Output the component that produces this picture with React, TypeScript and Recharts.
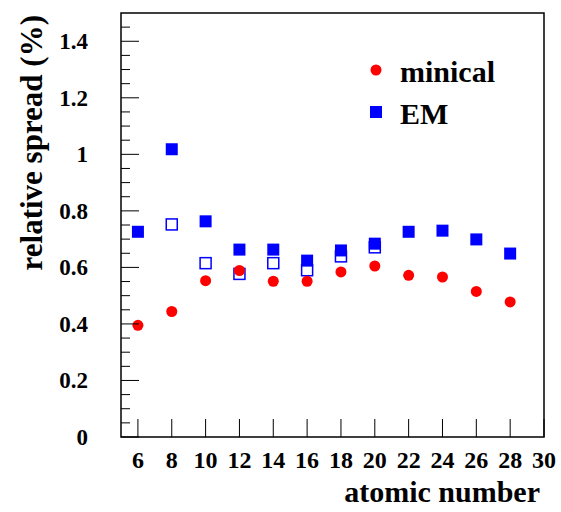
import React from 'react';
import { ScatterChart, Scatter, XAxis, YAxis, ReferenceArea, Legend } from 'recharts';

// atomic number (Z) of each measured element
const atomicNumbers = [6, 8, 10, 12, 14, 16, 18, 20, 22, 24, 26, 28];
// relative spread (%)
const minicalSpread = [0.395, 0.444, 0.553, 0.589, 0.551, 0.551, 0.584, 0.605, 0.572, 0.566, 0.515, 0.478];
const emSpread = [0.726, 1.018, 0.763, 0.663, 0.663, 0.624, 0.66, 0.684, 0.726, 0.73, 0.699, 0.649];
// open squares (EM, second set, not in legend)
const emOpenAtomic = [8, 10, 12, 14, 16, 18, 20];
const emOpenSpread = [0.752, 0.615, 0.577, 0.615, 0.59, 0.639, 0.671];

const legendOrder = ['minical', 'EM'];
const xTicks = [6, 8, 10, 12, 14, 16, 18, 20, 22, 24, 26, 28, 30];
const yMajorTicks = [0, 0.2, 0.4, 0.6, 0.8, 1, 1.2, 1.4];
const yAllTicks = [
  0, 0.05, 0.1, 0.15, 0.2, 0.25, 0.3, 0.35, 0.4, 0.45, 0.5, 0.55, 0.6, 0.65, 0.7,
  0.75, 0.8, 0.85, 0.9, 0.95, 1, 1.05, 1.1, 1.15, 1.2, 1.25, 1.3, 1.35, 1.4, 1.45,
];

const FONT = '"Liberation Serif", "Times New Roman", serif';
const PLOT_LEFT = 121;
const PLOT_BOTTOM = 437;
const RED = '#ff0000';
const BLUE = '#0000ff';

const minicalData = atomicNumbers.map((z, i) => ({ z, spread: minicalSpread[i] }));
const emData = atomicNumbers.map((z, i) => ({ z, spread: emSpread[i] }));
const emOpenData = emOpenAtomic.map((z, i) => ({ z, spread: emOpenSpread[i] }));

const XTick = (props: any) => {
  const { x, payload } = props;
  return (
    <g>
      <line x1={x} x2={x} y1={PLOT_BOTTOM} y2={PLOT_BOTTOM - 18} stroke="#000" strokeWidth={1} />
      <text x={x} y={468} textAnchor="middle" fontFamily={FONT} fontWeight="bold" fontSize={24} fill="#000">
        {payload.value}
      </text>
    </g>
  );
};

const YTick = (props: any) => {
  const { y, payload } = props;
  const major = yMajorTicks.some((t) => Math.abs(t - payload.value) < 1e-6);
  return (
    <g>
      <line x1={PLOT_LEFT} x2={PLOT_LEFT + (major ? 18 : 9)} y1={y} y2={y} stroke="#000" strokeWidth={1} />
      {major && (
        <text x={88} y={y + 8} textAnchor="end" fontFamily={FONT} fontWeight="bold" fontSize={23} fill="#000">
          {String(payload.value)}
        </text>
      )}
    </g>
  );
};

const renderLegend = (props: any) => {
  const items = (props.payload || [])
    .filter((p: any) => legendOrder.includes(p.value))
    .sort((a: any, b: any) => legendOrder.indexOf(a.value) - legendOrder.indexOf(b.value));
  return (
    <div style={{ fontFamily: FONT, fontWeight: 'bold', fontSize: 30, color: '#000' }}>
      {items.map((entry: any) => (
        <div key={entry.value} style={{ position: 'relative', height: 42, width: 160 }}>
          <svg width={14} height={14} style={{ position: 'absolute', left: 5, top: 14 }}>
            {entry.value === 'minical' ? (
              <circle cx={7} cy={7} r={5.5} fill={RED} />
            ) : (
              <rect x={1} y={1} width={12} height={12} fill={BLUE} />
            )}
          </svg>
          <span style={{ position: 'absolute', left: 36, top: 8, lineHeight: '30px', whiteSpace: 'nowrap' }}>
            {entry.value}
          </span>
        </div>
      ))}
    </div>
  );
};

export default function App() {
  return (
    <div style={{ position: 'absolute', left: 0, top: 0, width: 561, height: 512, background: '#fff' }}>
      <ScatterChart width={561} height={512} margin={{ top: 13, right: 17, bottom: 0, left: 0 }}>
        <XAxis
          type="number"
          dataKey="z"
          domain={[5, 30]}
          ticks={xTicks}
          interval={0}
          allowDataOverflow
          height={75}
          axisLine={false}
          tickLine={false}
          tickSize={0}
          tick={<XTick />}
        />
        <YAxis
          type="number"
          dataKey="spread"
          domain={[0, 1.5]}
          ticks={yAllTicks}
          interval={0}
          allowDataOverflow
          width={121}
          axisLine={false}
          tickLine={false}
          tickSize={0}
          tick={<YTick />}
        />
        <ReferenceArea x1={5} x2={30} y1={0} y2={1.5} fill="none" stroke="#000" strokeWidth={1.5} ifOverflow="visible" />
        <Legend
          content={renderLegend}
          layout="vertical"
          verticalAlign="middle"
          align="center"
          wrapperStyle={{ left: 364, top: 49, width: 180 }}
        />
        <Scatter
          name="EM"
          data={emData}
          isAnimationActive={false}
          shape={(p: any) => <rect x={p.cx - 6} y={p.cy - 6} width={12} height={12} fill={BLUE} />}
        />
        <Scatter
          name="open"
          data={emOpenData}
          legendType="none"
          isAnimationActive={false}
          shape={(p: any) => (
            <rect x={p.cx - 5.5} y={p.cy - 5.5} width={11} height={11} fill="none" stroke={BLUE} strokeWidth={1.5} />
          )}
        />
        <Scatter
          name="minical"
          data={minicalData}
          isAnimationActive={false}
          shape={(p: any) => <circle cx={p.cx} cy={p.cy} r={5.5} fill={RED} />}
        />
      </ScatterChart>
      <svg width={561} height={512} style={{ position: 'absolute', left: 0, top: 0, pointerEvents: 'none' }}>
        <text
          x={42}
          y={15}
          transform="rotate(-90, 42, 15)"
          textAnchor="end"
          fontFamily={FONT}
          fontWeight="bold"
          fontSize={31}
          fill="#000"
        >
          relative spread (%)
        </text>
        <text x={540} y={502} textAnchor="end" fontFamily={FONT} fontWeight="bold" fontSize={30} fill="#000">
          atomic number
        </text>
      </svg>
    </div>
  );
}
